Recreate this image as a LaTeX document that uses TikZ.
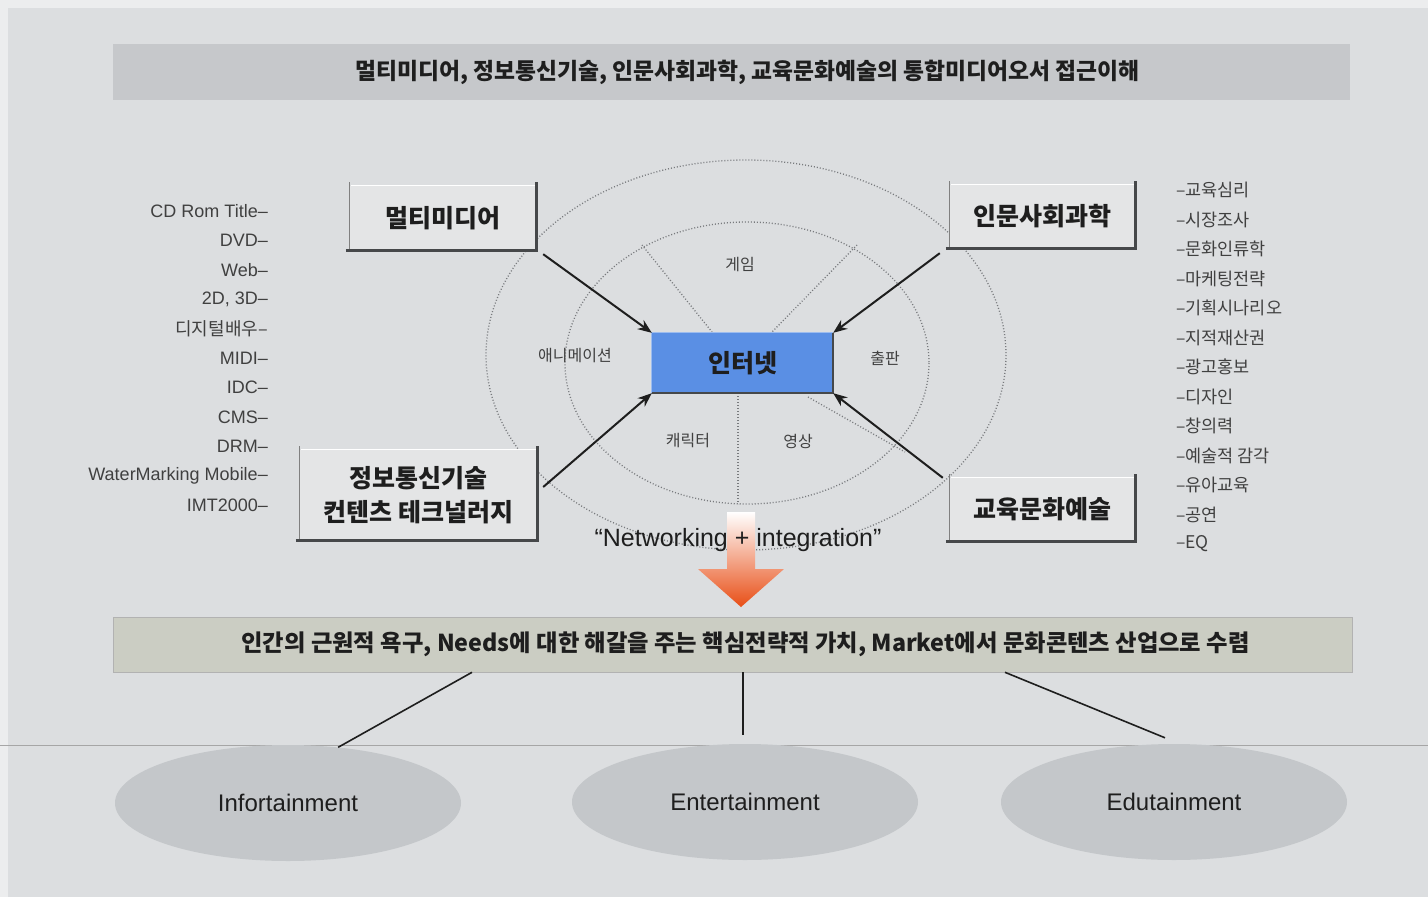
\documentclass[tikz,border=0pt]{standalone}
\usepackage{fontspec}
\setmainfont{Noto Sans CJK KR}
\newfontfamily\lat{Liberation Sans}
\usetikzlibrary{arrows.meta,shapes.geometric,calc}
\definecolor{pagec}{RGB}{236,237,238}
\definecolor{bgc}{RGB}{220,222,224}
\definecolor{bannerc}{RGB}{198,200,203}
\definecolor{boxc}{RGB}{228,229,230}
\definecolor{blueb}{RGB}{90,143,228}
\definecolor{greenb}{RGB}{203,205,195}
\definecolor{ellc}{RGB}{196,199,202}
\definecolor{inkc}{RGB}{30,30,30}
\definecolor{shadc}{RGB}{70,72,74}
\definecolor{dotc}{RGB}{120,122,125}
\definecolor{orA}{RGB}{242,140,60}
\definecolor{orB}{RGB}{232,78,22}
\tikzset{
  kbox/.style={fill=boxc, inner sep=0pt, align=center, text=inkc,
    font=\fontsize{25}{31}\selectfont\bfseries},
  shadl/.style={line width=3pt, shadc},
  bevl/.style={line width=0.8pt, gray},
  dotl/.style={dotc, line width=1.3pt, dash pattern=on 1pt off 2pt},
  bigarrow/.style={inkc, line width=2pt, -{Stealth[length=14pt,width=11pt]}},
  conn/.style={inkc, line width=1.6pt},
  small/.style={text=inkc!85, font=\fontsize{16}{18}\selectfont},
  listl/.style={text=inkc!85, font=\fontsize{18}{20}\selectfont, anchor=east, inner sep=0pt},
  listr/.style={text=inkc!85, font=\fontsize{17.5}{20}\selectfont, anchor=west, inner sep=0pt},
  ell/.style={ellipse, fill=ellc, minimum width=346pt, minimum height=116pt, inner sep=0pt,
    text=inkc, font=\lat\fontsize{24}{28}\selectfont},
  banner/.style={inner sep=0pt, text=inkc, font=\fontsize{22.8}{26}\selectfont\bfseries}
}
\begin{document}
\begin{tikzpicture}[x=1pt,y=-1pt]
\useasboundingbox (0,0) rectangle (1428,897);
\fill[pagec] (0,0) rectangle (1428,897);
\fill[bgc] (8,8) rectangle (1428,897);
% scan seam
\draw[gray!70, line width=0.8pt] (0,745) -- (1428,745);

% top banner
\node[banner, fill=bannerc, minimum width=1237pt, minimum height=56pt] (tb) at (731.5,72) {\hspace*{32pt}멀티미디어, 정보통신기술, 인문사회과학, 교육문화예술의 통합미디어오서 접근이해};

% dotted ellipses and sectors
\draw[dotl] (746,355) ellipse [x radius=260, y radius=195];
\draw[dotl] (747,363) ellipse [x radius=182, y radius=141];
\draw[dotl] (642,245) -- (712,332);
\draw[dotl] (857,245) -- (772,332);
\draw[dotl] (738,396) -- (738,504);
\draw[dotl] (808,397) -- (905,452);

\node[small] (game) at (740,265) {게임};
\node[small] (anim) at (575,356) {애니메이션};
\node[small] (pub) at (885,358) {출판};
\node[small] (char) at (688,441) {캐릭터};
\node[small] (video) at (798,441) {영상};

% centre box
\node[fill=blueb, minimum width=181pt, minimum height=60pt, inner sep=0pt, text=inkc,
  font=\fontsize{25}{30}\selectfont\bfseries] (inet) at (742.5,363) {인터넷};
\draw[line width=0.8pt, blueb!60!white] (inet.south west) -- (inet.north west) -- (inet.north east);
\draw[line width=2.5pt, shadc] (inet.south west) -- (inet.south east) -- (inet.north east);

% four boxes
\node[kbox, minimum width=186pt, minimum height=64pt] (mm) at (443,218) {멀티미디어};
\node[kbox, minimum width=185pt, minimum height=63pt] (hum) at (1042.5,216.5) {인문사회과학};
\node[kbox, minimum width=237pt, minimum height=90pt, font=\fontsize{25}{34}\selectfont\bfseries] (it) at (418.5,495) {정보통신기술\\컨텐츠 테크널러지};
\node[kbox, minimum width=185pt, minimum height=63pt] (edu) at (1042.5,509.5) {교육문화예술};
\foreach \b in {mm,hum,it,edu}{
  \draw[line width=0.8pt, white] ([xshift=1pt]\b.north west) -- (\b.north east);
  \draw[bevl] (\b.south west) -- ([yshift=4pt]\b.north west);
  \draw[shadl] ([xshift=-4pt]\b.south west) -- (\b.south east) -- ([yshift=4pt]\b.north east);
}

% arrows into centre
\draw[bigarrow] ([xshift=7pt,yshift=-4pt]mm.south east) -- (inet.north west);
\draw[bigarrow] ([xshift=-10pt,yshift=-5pt]hum.south west) -- (inet.north east);
\draw[bigarrow] ([xshift=6pt,yshift=8pt]it.east) -- (inet.south west);
\draw[bigarrow] ([xshift=-7pt]edu.north west) -- (inet.south east);

% left list
\foreach \t [count=\i] in {{\lat CD Rom Title–},{\lat DVD–},{\lat Web–},{\lat 2D, 3D–},디지털배우–,{\lat MIDI–},{\lat IDC–},{\lat CMS–},{\lat DRM–},{\lat WaterMarking Mobile–},{\lat IMT2000–}}{
  \node[listl] (l\i) at (268,{211+29.4*(\i-1)}) {\t};
}
% right list
\foreach \t [count=\i] in {–교육심리,–시장조사,–문화인류학,–마케팅전략,–기획시나리오,–지적재산권,–광고홍보,–디자인,–창의력,–예술적 감각,–유아교육,–공연,–EQ}{
  \node[listr] (r\i) at (1176,{190+29.5*(\i-1)}) {\t};
}

% orange arrow
\shade[top color=white, middle color=orA, bottom color=orB]
  (727,512) -- (755,512) -- (755,569) -- (784,569) -- (741,607) -- (698,569) -- (727,569) -- cycle;
\node[text=inkc, font=\lat\fontsize{25}{28}\selectfont] (net) at (738,540) {“Networking + integration”};

% bottom banner
\node[banner, fill=greenb, draw=gray!60, line width=0.6pt, minimum width=1239pt, minimum height=55pt, font=\fontsize{23.3}{26}\selectfont\bfseries] (bb) at (732.5,644.5) {\hspace*{26pt}인간의 근원적 욕구, Needs에 대한 해갈을 주는 핵심전략적 가치, Market에서 문화콘텐츠 산업으로 수렴};

% ellipses
\node[ell] (e1) at (288,803) {Infortainment};
\node[ell] (e2) at (745,802) {Entertainment};
\node[ell] (e3) at (1174,802) {Edutainment};

\draw[conn] ($(bb.south)+(-260.5,0)$) -- (e1.48);
\draw[conn, shorten >=9pt] ($(bb.south)+(10.5,0)$) -- ($(e2.north)+(-2,0)$);
\draw[conn] ($(bb.south)+(272.5,0)$) -- ($(e3.north)+(-9,-6)$);
\end{tikzpicture}
\end{document}
